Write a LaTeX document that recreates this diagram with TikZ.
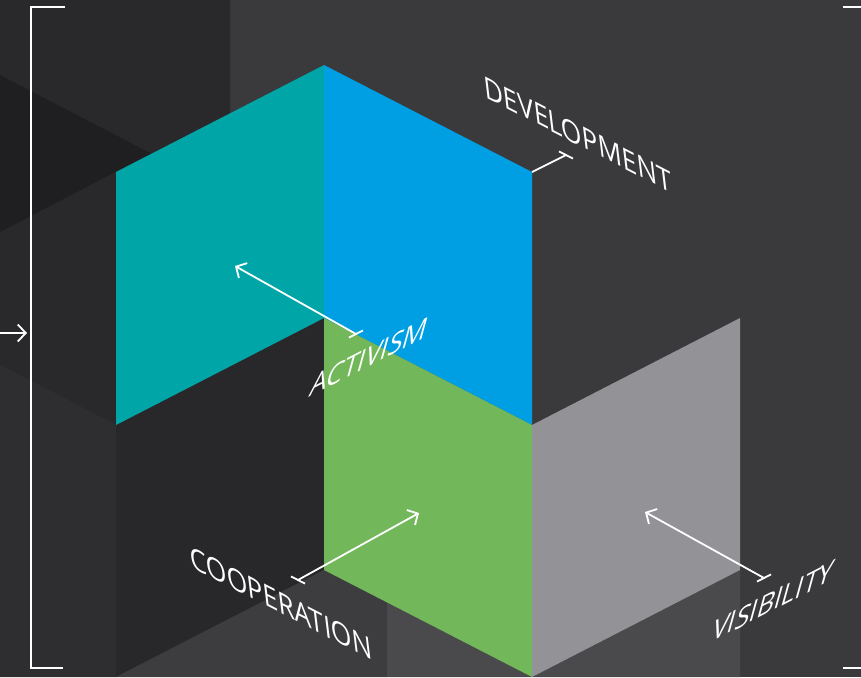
\documentclass[tikz,border=0pt]{standalone}
\usepackage{fontspec}
\setmainfont{Open Sans}
\usetikzlibrary{arrows.meta}
\definecolor{bgbase}{HTML}{3A393B}
\definecolor{bgdark}{HTML}{29292B}
\definecolor{bgdeep}{HTML}{1F1F21}
\definecolor{bgside}{HTML}{2E2E30}
\definecolor{bgunder}{HTML}{28282A}
\definecolor{bgfloor}{HTML}{3D3D3F}
\definecolor{bglight}{HTML}{4A4A4C}
\definecolor{faceteal}{HTML}{00A5A8}
\definecolor{faceblue}{HTML}{009FE3}
\definecolor{facegreen}{HTML}{72B85A}
\definecolor{facegray}{HTML}{939296}
\begin{document}
\begin{tikzpicture}[x=1pt,y=-1pt,
		pointer/.style={draw=white, line width=1.8pt, line cap=round, -{Straight Barb[length=8pt,width=17pt]}},
		ruler/.style={draw=white, line width=1.8pt},
		isodown/.style={transform shape, cm={1,-0.514,-0.14,1.16,(0,0)}, anchor=base west, inner sep=0pt, text=white, font=\fontsize{26.5}{30}\selectfont},
		isoup/.style={transform shape, cm={1,0.514,0.32,1.16,(0,0)}, anchor=base west, inner sep=0pt, text=white, font=\fontsize{26.5}{30}\selectfont}]
					\useasboundingbox (0,0) rectangle (861,677);
					\fill[bgbase] (0,0) rectangle (861,677);
					
					\fill[bgdark] (0,0) -- (230,0) -- (230,113.4) -- (116,172) -- (116,425) -- (0,365) -- cycle;
					\fill[bgdeep] (0,75) -- (151,153.5) -- (0,232) -- cycle;
					\fill[bgside] (0,365) -- (116,425) -- (116,677) -- (0,677) -- cycle;
					\fill[bgunder] (116,425) -- (324,318) -- (324,570) -- (116,677) -- cycle;
					\fill[bgfloor] (116,677) -- (324,570) -- (387,602.4) -- (387,677) -- cycle;
					\fill[bglight] (387,602.4) -- (532,677) -- (387,677) -- cycle;
					\fill[bglight] (532,677) -- (740,570) -- (740,677) -- cycle;
					
					\fill[faceteal] (116,172) -- (324,65) -- (324,318) -- (116,425) -- cycle;
					\fill[faceblue] (324,65) -- (532,172) -- (532,425) -- (324,318) -- cycle;
					\fill[facegreen] (324,318) -- (532,425) -- (532,677) -- (324,570) -- cycle;
					\fill[facegray] (532,425) -- (740,318) -- (740,570) -- (532,677) -- cycle;
					
					\draw[ruler] (65,7) -- (31,7) -- (31,668) -- (63,668);
					\draw[ruler] (843,7) -- (861,7);
					\draw[ruler] (843,668) -- (861,668);
					
					\coordinate (leftIn) at (0,333);
					\coordinate (leftTo) at (27,333);
					\coordinate (devCorner) at (532,172);
					\coordinate (devTail) at (566,155);
					\coordinate (actTail) at (356,334);
					\coordinate (actHead) at (235,266);
					\coordinate (coopTail) at (298,580);
					\coordinate (coopHead) at (419,513);
					\coordinate (visTail) at (764,578);
					\coordinate (visHead) at (645,512);
					
					\draw[pointer] (leftIn) -- (leftTo);
					\draw[ruler] (devCorner) -- (devTail);
					\draw[pointer] (actTail) -- (actHead);
					\draw[pointer] (coopTail) -- (coopHead);
					\draw[pointer] (visTail) -- (visHead);
					
					\draw[ruler] (devTail) ++(-7,-3.6) -- ++(14,7.2);
					\draw[ruler] (actTail) ++(-7,3.6) -- ++(14,-7.2);
					\draw[ruler] (coopTail) ++(-7,-3.6) -- ++(14,7.2);
					\draw[ruler] (visTail) ++(-7,3.6) -- ++(14,-7.2);
					
					\node[isodown] (development) at (485,97) {DEVELOPMENT};
					\node[isodown] (cooperation) at (191,567) {COOPERATION};
					\node[isoup] (activism) at (308,398) {ACTIVISM};
					\node[isoup] (visibility) at (710,643) {VISIBILITY};
\end{tikzpicture}
\end{document}
